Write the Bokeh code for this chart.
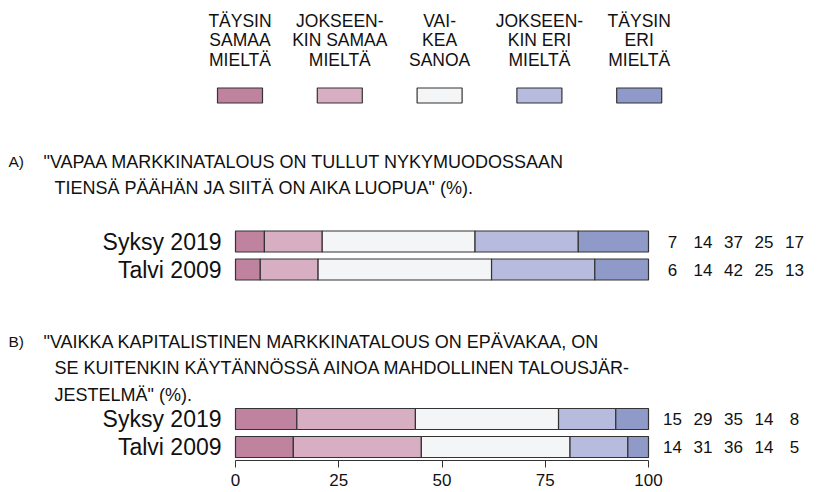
from bokeh.plotting import figure
from bokeh.models import Range1d, FixedTicker, ColumnDataSource
from bokeh.core.properties import value
from bokeh.embed import file_html
from bokeh.resources import INLINE

# ---------------- data ----------------
legend_labels = [
    ["TÄYSIN", "SAMAA", "MIELTÄ"],
    ["JOKSEEN-", "KIN SAMAA", "MIELTÄ"],
    ["VAI-", "KEA", "SANOA"],
    ["JOKSEEN-", "KIN ERI", "MIELTÄ"],
    ["TÄYSIN", "ERI", "MIELTÄ"],
]
colors = ["#bf829f", "#d8afc2", "#f4f5f7", "#b7bbdd", "#8f9ac9"]

rows = ["Syksy 2019", "Talvi 2009"]
a_syksy = [7, 14, 37, 25, 17]
a_talvi = [6, 14, 42, 25, 13]
b_syksy = [15, 29, 35, 14, 8]
b_talvi = [14, 31, 36, 14, 5]

title_a_label = "A)"
title_a = ['"VAPAA MARKKINATALOUS ON TULLUT NYKYMUODOSSAAN',
           'TIENSÄ PÄÄHÄN JA SIITÄ ON AIKA LUOPUA" (%).']
title_b_label = "B)"
title_b = ['"VAIKKA KAPITALISTINEN MARKKINATALOUS ON EPÄVAKAA, ON',
           'SE KUITENKIN KÄYTÄNNÖSSÄ AINOA MAHDOLLINEN TALOUSJÄR-',
           'JESTELMÄ" (%).']
x_ticks = [0, 25, 50, 75, 100]

# ---------------- layout ----------------
FONT = "Liberation Sans"
ZERO_PX = 235.0
PX_PER_UNIT = 4.13
FRAME_W = 828
FRAME_H = 460


def px2x(px):
    return (px - ZERO_PX) / PX_PER_UNIT


p = figure(frame_width=FRAME_W, frame_height=FRAME_H,
           x_range=Range1d(px2x(0), px2x(FRAME_W)), y_range=Range1d(FRAME_H, 0),
           output_backend="svg", toolbar_location=None,
           x_axis_location="below", y_axis_location=None,
           min_border_left=0, min_border_right=0, min_border_top=0, min_border_bottom=0)
p.outline_line_color = None
p.grid.grid_line_color = None
p.background_fill_color = "white"

ax = p.xaxis[0]
ax.bounds = (0, 100)
ax.ticker = FixedTicker(ticks=x_ticks)
ax.major_tick_in = 0
ax.major_tick_out = 7
ax.minor_tick_in = 0
ax.minor_tick_out = 0
ax.axis_line_color = "#333333"
ax.major_tick_line_color = "#333333"
ax.major_label_text_font = FONT
ax.major_label_text_font_size = "17px"
ax.major_label_text_color = "#111111"
ax.major_label_standoff = 6

# legend
LEG_X0 = 239.5
LEG_STEP = 99.8
LEG_LINE_Y = [20, 39.5, 59]
leg_cx = [px2x(LEG_X0 + i * LEG_STEP) for i in range(len(colors))]
for li, ly in enumerate(LEG_LINE_Y):
    p.text(x=leg_cx, y=[ly] * len(leg_cx), text=[lab[li] for lab in legend_labels],
           text_font=value(FONT), text_font_size="17.5px", text_color="#111111",
           text_align="center", text_baseline="middle")
p.rect(x=leg_cx, y=[95] * len(leg_cx), width=45 / PX_PER_UNIT, height=15,
       fill_color=colors, line_color="#333333", line_width=1.2)

# titles
def draw_title(label, lines, y0):
    p.text(x=[px2x(8)], y=[y0], text=[label], text_font=value(FONT),
           text_font_size="15.5px", text_color="#111111", text_baseline="middle")
    xs = [px2x(43)] + [px2x(54)] * (len(lines) - 1)
    ys = [y0 + 26.5 * i for i in range(len(lines))]
    p.text(x=xs, y=ys, text=lines, text_font=value(FONT), text_font_size="18px",
           text_color="#111111", text_baseline="middle")


draw_title(title_a_label, title_a, 161)
draw_title(title_b_label, title_b, 341)

# bars
VAL_COL_PX = 672
VAL_STEP_PX = 30.5


def draw_block(series, ys):
    for vals, yc in zip(series, ys):
        tot = float(sum(vals))
        shares = [v / tot * 100 for v in vals]
        lefts, rights, acc = [], [], 0.0
        for s in shares:
            lefts.append(acc)
            acc += s
            rights.append(acc)
        src = ColumnDataSource(dict(left=lefts, right=rights, y=[yc] * len(vals), color=colors))
        p.hbar(y="y", left="left", right="right", height=21, fill_color="color",
               line_color="#333333", line_width=1.2, source=src)
        p.text(x=[px2x(VAL_COL_PX + i * VAL_STEP_PX) for i in range(len(vals))], y=[yc] * len(vals),
               text=[str(v) for v in vals], text_font=value(FONT), text_font_size="17px",
               text_color="#111111", text_align="center", text_baseline="middle")
    p.text(x=[px2x(221)] * len(rows), y=ys, text=rows, text_font=value(FONT),
           text_font_size="23px", text_color="#111111", text_align="right", text_baseline="middle")


draw_block([a_syksy, a_talvi], [241, 269])
draw_block([b_syksy, b_talvi], [418.5, 446.5])

open("out.html", "w").write(file_html(p, INLINE))
